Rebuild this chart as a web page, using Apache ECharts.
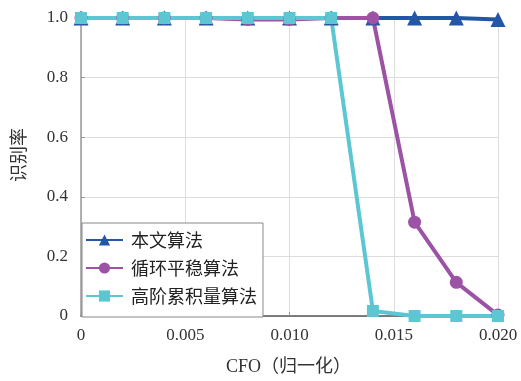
<!DOCTYPE html>
<html><head><meta charset="utf-8">
<script src="https://cdn.jsdelivr.net/npm/echarts@6/dist/echarts.min.js"></script>
<style>html,body{margin:0;padding:0;background:#fff}#c{width:521px;height:381px}</style>
</head><body><div id="c"></div>
<script>
const cfo = [0, 0.002, 0.004, 0.006, 0.008, 0.010, 0.012, 0.014, 0.016, 0.018, 0.020];
const ours = [1, 1, 1, 1, 1, 1, 1, 1, 1, 1.0, 0.995];
const cyclo = [1, 1, 1, 1, 0.995, 0.995, 1, 1, 0.315, 0.113, 0.003];
const hoc = [1, 1, 1, 1, 1, 1, 1, 0.017, 0, 0, 0];
const names = ['本文算法', '循环平稳算法', '高阶累积量算法'];
const xTicks = {0:'0', 0.005:'0.005', 0.01:'0.010', 0.015:'0.015', 0.02:'0.020'};
const xName = 'CFO（归一化）';
const yName = '识别率';

const pair = v => cfo.map((x, i) => [x, v[i]]);
const serif = 'Liberation Serif, Times New Roman, serif';
const cjk = 'Noto Sans CJK SC';

const chart = echarts.init(document.getElementById('c'));
chart.setOption({
  animation: false,
  grid: {left: 81, right: 23, top: 18, bottom: 64},
  xAxis: {
    type: 'value', min: 0, max: 0.02, interval: 0.005,
    name: xName, nameLocation: 'middle', nameGap: 42,
    nameTextStyle: {fontFamily: serif + ',' + cjk, fontSize: 18, color: '#333', padding: [0, 2, 0, 0]},
    axisLine: {lineStyle: {color: '#555', width: 1.5}},
    axisTick: {inside: true, length: 4, lineStyle: {color: '#999'}},
    axisLabel: {fontFamily: serif, fontSize: 17, color: '#333', margin: 11,
      formatter: v => { const k = Math.round(v * 1000) / 1000; return xTicks[k] !== undefined ? xTicks[k] : ''; }},
    splitLine: {show: true, lineStyle: {color: '#ddd'}}
  },
  yAxis: {
    type: 'value', min: 0, max: 1, interval: 0.2,
    name: yName, nameLocation: 'middle', nameGap: 54, nameRotate: 90,
    nameTextStyle: {fontFamily: cjk, fontSize: 18, color: '#333', padding: [0, 0, 0, 24]},
    axisLine: {show: true, lineStyle: {color: '#999', width: 1.5}},
    axisTick: {show: true, inside: true, length: 4, lineStyle: {color: '#999'}},
    axisLabel: {fontFamily: serif, fontSize: 17, color: '#333', margin: 13,
      formatter: v => v === 0 ? '0' : v.toFixed(1)},
    splitLine: {show: true, lineStyle: {color: '#ddd'}}
  },
  legend: {
    orient: 'vertical', left: 82, top: 223,
    backgroundColor: '#fff', borderColor: '#888', borderWidth: 1, borderRadius: 0,
    padding: [8, 6, 12, 3], itemGap: 10, itemWidth: 37, itemHeight: 14,
    textStyle: {fontFamily: cjk, fontSize: 18, color: '#222', padding: [0, 0, 0, 3]},
    data: names
  },
  series: [
    {name: names[0], type: 'line', data: pair(ours), symbol: 'triangle', symbolSize: 15,
      color: '#2456A6', lineStyle: {width: 4}, itemStyle: {color: '#2456A6'}},
    {name: names[1], type: 'line', data: pair(cyclo), symbol: 'circle', symbolSize: 13,
      color: '#9C52A5', lineStyle: {width: 4}, itemStyle: {color: '#9C52A5'}},
    {name: names[2], type: 'line', data: pair(hoc), symbol: 'rect', symbolSize: 12,
      color: '#5CC7D3', lineStyle: {width: 4}, itemStyle: {color: '#5CC7D3'}}
  ]
});
</script></body></html>
